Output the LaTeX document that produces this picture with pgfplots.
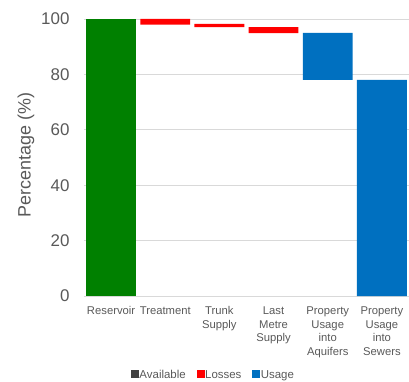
\documentclass[border=0pt]{standalone}
\usepackage{fontspec}
\setmainfont{Liberation Sans}
\usepackage{pgfplots}
\pgfplotsset{compat=1.18}
\definecolor{txt}{HTML}{595959}
\definecolor{gridc}{HTML}{D9D9D9}
\definecolor{availc}{HTML}{404040}
\definecolor{greenc}{HTML}{008000}
\definecolor{redc}{HTML}{FF0000}
\definecolor{bluec}{HTML}{0070C0}
\begin{document}
\begin{tikzpicture}
\begin{axis}[
  at={(0,0)}, anchor=south west,
  scale only axis, width=325bp, height=277bp,
  xmin=-0.5, xmax=5.5, ymin=0, ymax=100,
  ybar stacked, bar width=0.92,
  axis line style={draw=none},
  major tick length=0pt,
  xtick={0,1,2,3,4,5},
  xticklabels={Reservoir,Treatment,{Trunk\\Supply},{Last\\Metre\\Supply},{Property\\Usage\\into\\Aquifers},{Property\\Usage\\into\\Sewers}},
  xticklabel style={align=center, text=txt, font=\fontsize{11.3}{13.9}\selectfont, anchor=north, yshift=-7bp},
  ytick={0,20,40,60,80,100},
  yticklabel style={text=txt, font=\fontsize{17}{20}\selectfont, xshift=-11bp},
  /pgf/number format/assume math mode=true,
  ymajorgrids, grid style={draw=gridc, line width=0.8bp},
  ylabel={Percentage (\%)},
  every axis y label/.style={at={([xshift=-58bp]axis description cs:0,0.509)}, rotate=90, anchor=center, text=txt, font=\fontsize{18}{21}\selectfont},
  legend style={at={(axis description cs:0.397,-0.285)}, anchor=center, draw=none, fill=none, legend columns=3,
    font=\fontsize{11.5}{13}\selectfont, text=txt,
    /tikz/every even column/.append style={column sep=10bp},
    nodes={inner xsep=1bp}},
  legend cell align=left,
]
\addplot[fill=none, draw=none, forget plot] coordinates {(0,0) (1,98) (2,97.1) (3,94.9) (4,78) (5,0)};
\addplot[fill=greenc, draw=none, forget plot] coordinates {(0,100) (1,0) (2,0) (3,0) (4,0) (5,0)};
\addplot[fill=redc, draw=none, forget plot] coordinates {(0,0) (1,2) (2,1.1) (3,2.2) (4,0) (5,0)};
\addplot[fill=bluec, draw=none, forget plot] coordinates {(0,0) (1,0) (2,0) (3,0) (4,17) (5,78)};
\addlegendimage{legend image code/.code={\fill[availc] (0bp,-2.5bp) rectangle (7bp,4.5bp);}}
\addlegendentry{Available}
\addlegendimage{legend image code/.code={\fill[redc] (0bp,-2.5bp) rectangle (7bp,4.5bp);}}
\addlegendentry{Losses}
\addlegendimage{legend image code/.code={\fill[bluec] (0bp,-2.5bp) rectangle (7bp,4.5bp);}}
\addlegendentry{Usage}
\end{axis}
\pgfresetboundingbox
\path[use as bounding box] (-84bp,-86bp) rectangle (325bp,296bp);
\end{tikzpicture}
\end{document}
